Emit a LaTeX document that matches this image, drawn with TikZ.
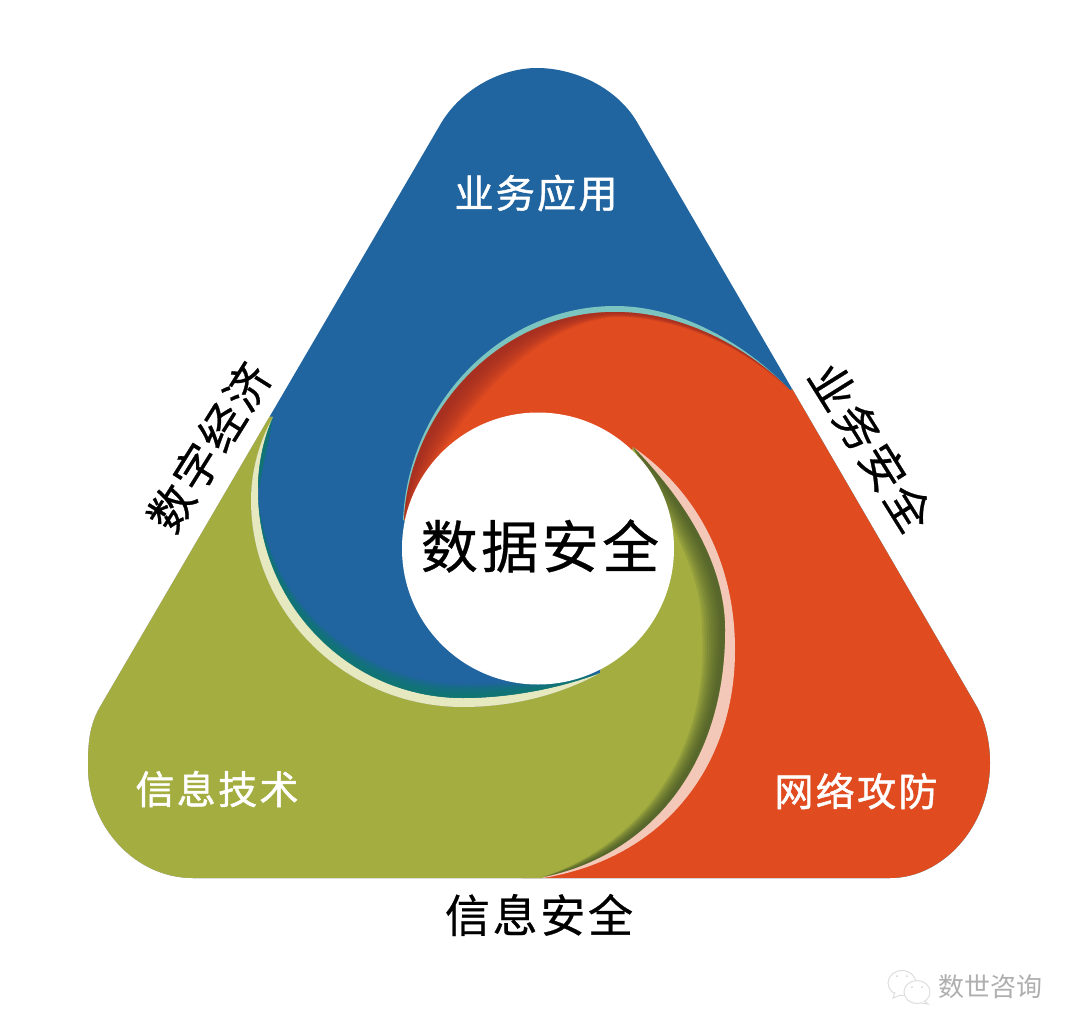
\documentclass[tikz,border=0pt]{standalone}
\usepackage{fontspec}
\newfontfamily\cjk{Noto Sans CJK SC}
\newfontfamily\cjksp[LetterSpace=6,FakeBold=0.6]{Noto Sans CJK SC}
\newfontfamily\cjkw[LetterSpace=6,FakeBold=1.2]{Noto Sans CJK SC}
\definecolor{cblue}{RGB}{32,100,160}
\definecolor{corange}{RGB}{224,75,32}
\definecolor{cgreen}{RGB}{163,173,64}
\definecolor{cteal}{RGB}{124,196,192}
\definecolor{cpink}{RGB}{243,200,184}
\definecolor{cpale}{RGB}{230,232,192}
\definecolor{sgreen}{RGB}{62,78,38}
\definecolor{sorange}{RGB}{150,42,34}
\definecolor{sblue}{RGB}{14,125,105}
\definecolor{wm}{RGB}{175,175,175}
\newcommand{\ip}[4]{({#1+\t*(#3-#1)},{#2+\t*(#4-#2)})}
\newcommand{\blueedge}{(273,417) .. controls (263,440) and (258,465) .. (258,490) .. controls (258,605) and (350,698) .. (463,698) .. controls (505,698) and (555,690) .. (600,673)}
\newcommand{\blueback}{(600,673) .. controls (555,690) and (505,698) .. (463,698) .. controls (350,698) and (258,605) .. (258,490) .. controls (258,465) and (263,440) .. (273,417)}
\newcommand{\paleouter}{(273,417) .. controls (260,440) and (251,470) .. (251,500) .. controls (251,613) and (346,707) .. (463,707) .. controls (512,707) and (560,695) .. (600,673)}
\newcommand{\greenedge}{(633,447) .. controls (680,495) and (725,560) .. (725,630) .. controls (725,765) and (650,855) .. (543,877)}
\newcommand{\pinkouter}{(633,447) .. controls (695,490) and (735,560) .. (735,650) .. controls (735,765) and (665,858) .. (543,878)}
\newcommand{\orangeedge}{(404,520) .. controls (410,410) and (500,312) .. (615,312) .. controls (680,312) and (745,345) .. (790,390)}
\newcommand{\tealouter}{(403,520) .. controls (408,405) and (500,306) .. (615,306) .. controls (680,306) and (745,343) .. (790,390)}
\newcommand{\triangleoutline}{(637,122) -- (977,707) .. controls (985,721) and (990,742) .. (990,763)
  .. controls (990,826) and (943,878) .. (890,878) -- (193,878)
  .. controls (135,878) and (88,826) .. (88,767) .. controls (88,745) and (89,726) .. (100,707)
  -- (440,125) .. controls (460,90) and (500,68) .. (537,68) .. controls (575,68) and (617,88) .. (637,122) -- cycle}
\tikzset{
  whitelabel/.style={text=white,font=\cjkw\fontsize{39}{42}\selectfont,inner sep=0pt},
  blacklabel/.style={text=black,font=\cjksp\fontsize{45}{48}\selectfont,inner sep=0pt},
  bubble/.style={draw=black!13,line width=1pt,fill=white}
}
\begin{document}
\begin{tikzpicture}[x=1pt,y=-1pt]
\useasboundingbox (0,0) rectangle (1080,1036);
\fill[white] (0,0) rectangle (1080,1036);
\begin{scope}
  \clip \triangleoutline;
  % blue base
  \fill[cblue] (0,0) rectangle (1080,1036);
  % orange blade with teal rim
  \fill[cteal] \tealouter -- (810,385) -- (1010,385) -- (1010,900) -- (500,900) -- (640,760) -- (600,600) -- cycle;
  \fill[corange] \orangeedge -- (810,385) -- (1010,385) -- (1010,900) -- (500,900) -- (640,760) -- (600,600) -- cycle;
  \foreach \t in {1,0.9,...,0.1} {
    \fill[sorange,opacity=0.13] \orangeedge
      .. controls \ip{745}{345}{745}{348} and \ip{680}{312}{680}{317} .. \ip{615}{312}{615}{317}
      .. controls \ip{500}{312}{520}{325} and \ip{410}{410}{440}{440} .. (404,520) -- cycle;
  }
  % green blade with pink rim
  \fill[cpink] \pinkouter -- (543,900) -- (0,900) -- (0,400) -- \paleouter -- cycle;
  \fill[cgreen] \greenedge -- (543,900) -- (0,900) -- (0,400) -- \paleouter -- cycle;
  \foreach \t in {1,0.9,...,0.1} {
    \fill[sgreen,opacity=0.13] \greenedge
      .. controls \ip{650}{855}{638}{845} and \ip{725}{765}{710}{755} .. \ip{725}{630}{702}{630}
      .. controls \ip{725}{560}{702}{565} and \ip{680}{495}{665}{520} .. (633,447) -- cycle;
  }
  % pale rim and teal tinge on the blue blade
  \fill[cpale] \paleouter -- \blueback -- cycle;
  \foreach \t in {1,0.9,...,0.1} {
    \fill[sblue,opacity=0.15] \blueedge
      .. controls \ip{555}{690}{555}{682} and \ip{505}{698}{505}{684} .. \ip{463}{698}{463}{684}
      .. controls \ip{350}{698}{358}{683} and \ip{258}{605}{262}{597} .. (258,490) -- cycle;
  }
\end{scope}
% centre
\fill[white] (538,548.5) circle [radius=136];
\node[text=black,font=\cjksp\fontsize{57}{60}\selectfont,inner sep=0pt] (centre) at (540,546) {数据安全};
\node[whitelabel] (app) at (536,193) {业务应用};
\node[whitelabel] (tech) at (217,789) {信息技术};
\node[whitelabel] (net) at (856,791) {网络攻防};
\node[blacklabel] (infosec) at (539,915) {信息安全};
\node[blacklabel,rotate=58] (economy) at (209,447) {数字经济};
\node[blacklabel,rotate=-58] (bizsec) at (871,447) {业务安全};
% watermark
\draw[bubble] (902,983) ellipse [x radius=14,y radius=12.5];
\draw[bubble] (895,992) -- (893,998) -- (901,995);
\draw[bubble] (917,992) ellipse [x radius=13,y radius=11.5];
\draw[bubble] (924,1001) -- (928,1004) -- (921,1003);
\foreach \p in {(897,976),(907,976),(912,987),(922,987)} \fill[black!16] \p circle [radius=1];
\node[text=wm,font=\cjk\fontsize{26}{28}\selectfont,inner sep=0pt] (mark) at (990,987) {数世咨询};
\end{tikzpicture}
\end{document}
